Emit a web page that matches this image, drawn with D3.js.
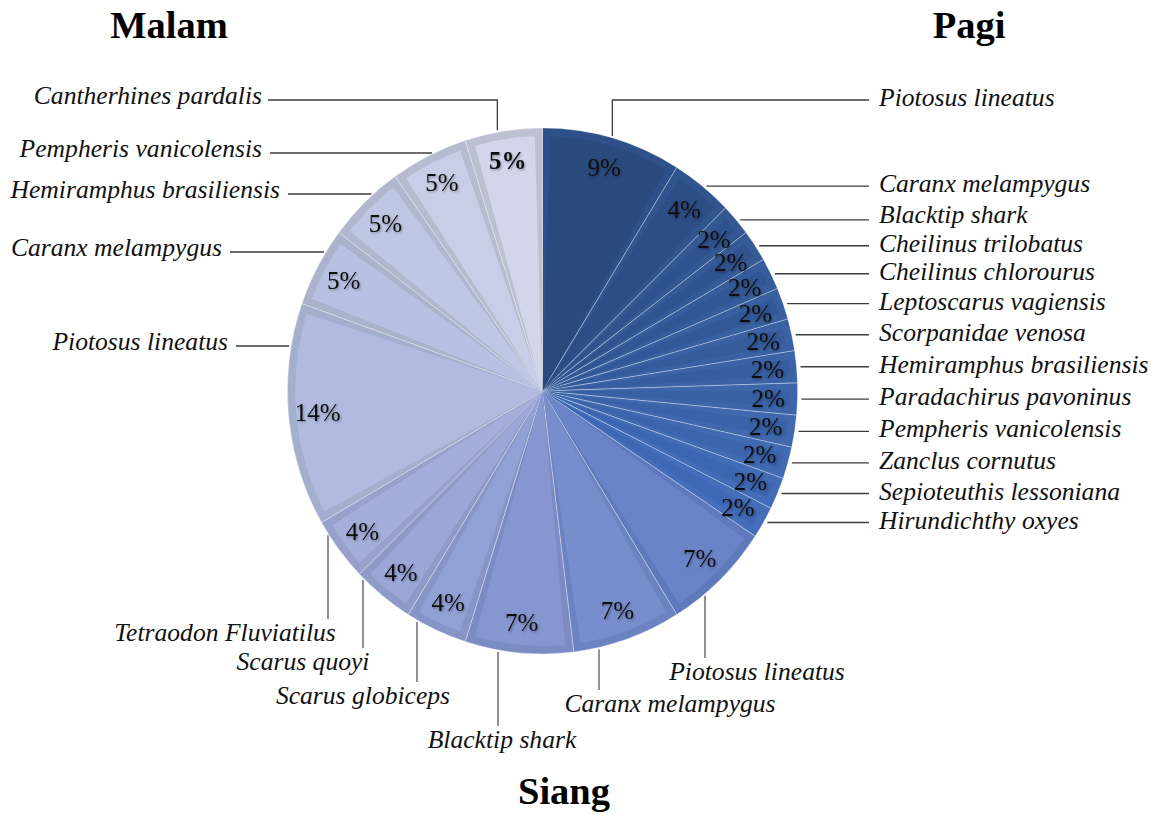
<!DOCTYPE html>
<html>
<head>
<meta charset="utf-8">
<script src="https://cdn.jsdelivr.net/npm/d3@7"></script>
<style>
  html, body { margin: 0; padding: 0; background: #ffffff; }
  svg { display: block; }
  .title { font-family: "Liberation Serif", "Times New Roman", serif; font-weight: bold; font-size: 38.5px; fill: #000; }
  .name { font-family: "Liberation Serif", "Times New Roman", serif; font-style: italic; font-size: 25.6px; fill: #111; }
  .pct { font-family: "Liberation Serif", "Times New Roman", serif; font-size: 25px; fill: #111; }
</style>
</head>
<body>
<svg id="chart" width="1151" height="814"></svg>
<script>
// Fish species observed per time of day (share of all sightings, %)
const periods = ["Pagi", "Siang", "Malam"];

const pagiSpecies = ["Piotosus lineatus", "Caranx melampygus", "Blacktip shark", "Cheilinus trilobatus",
  "Cheilinus chlorourus", "Leptoscarus vagiensis", "Scorpanidae venosa", "Hemiramphus brasiliensis",
  "Paradachirus pavoninus", "Pempheris vanicolensis", "Zanclus cornutus", "Sepioteuthis lessoniana",
  "Hirundichthy oxyes"];
const pagiPct = [9, 4, 2, 2, 2, 2, 2, 2, 2, 2, 2, 2, 2];

const siangSpecies = ["Piotosus lineatus", "Caranx melampygus", "Blacktip shark", "Scarus globiceps",
  "Scarus quoyi", "Tetraodon Fluviatilus"];
const siangPct = [7, 7, 7, 4, 4, 4];

const malamSpecies = ["Piotosus lineatus", "Caranx melampygus", "Hemiramphus brasiliensis",
  "Pempheris vanicolensis", "Cantherhines pardalis"];
const malamPct = [14, 5, 5, 5, 5];

// Slice fills and bevel-band colours, clockwise from 12 o'clock
const fillColors = [
  "#2a4a7e", "#2c4d85", "#2f518d", "#305390", "#325694", "#335898", "#355b9c", "#365da0",
  "#3860a4", "#3a62a8", "#3b64ac", "#3d66b0", "#3f68b4",
  "#6a84c7", "#788ecc", "#8696d0", "#92a1d4", "#9aa7d7", "#a3aed9",
  "#b0bbdf", "#b8c1e2", "#c0c7e4", "#c8cee7", "#d2d6eb"
];
const bandColors = [
  "#2e5088", "#30548d", "#335894", "#355a97", "#365c9b", "#385f9f", "#3a61a3", "#3b63a6",
  "#3d66aa", "#3f68ae", "#406ab2", "#426cb5", "#446eb9",
  "#5e79bc", "#6c83c2", "#7b8bc4", "#8794c6", "#8e9ac8", "#97a1ca",
  "#a4aecd", "#aab2cc", "#b0b7ce", "#b6bccf", "#bcc1d2"
];

// Label placement: leader style, leader/text anchor positions
// kind: "right" (leader at slice mid-angle height), "elbowR"/"elbowL" (vertical then horizontal),
//       "left" (horizontal at ly), "down" (vertical at lx); dy nudges a name off its leader
const pagiLayout = [
  { kind: "elbowR", ly: 100 },
  { kind: "right" },
  { kind: "right", dy: -3 },
  ...d3.range(10).map(() => ({ kind: "right" }))
];
const siangLayout = [
  { kind: "down", lx: 705, tx: 757, ty: 680 },
  { kind: "down", lx: 599, tx: 670, ty: 712 },
  { kind: "down", lx: 498, tx: 502, ty: 748 },
  { kind: "down", lx: 417, tx: 363, ty: 704 },
  { kind: "down", lx: 363, tx: 303, ty: 670 },
  { kind: "down", lx: 328, tx: 225, ty: 641 }
];
const malamLayout = [
  { kind: "left", ly: 346, tx: 228 },
  { kind: "left", ly: 252, tx: 222 },
  { kind: "left", ly: 194, tx: 280 },
  { kind: "left", ly: 153, tx: 262 },
  { kind: "elbowL", ly: 100, tx: 262, bold: true }
];

const slices = [
  ...pagiSpecies.map((s, i) => ({ period: "Pagi", species: s, value: pagiPct[i], layout: pagiLayout[i] })),
  ...siangSpecies.map((s, i) => ({ period: "Siang", species: s, value: siangPct[i], layout: siangLayout[i] })),
  ...malamSpecies.map((s, i) => ({ period: "Malam", species: s, value: malamPct[i], layout: malamLayout[i] }))
];

const svg = d3.select("#chart");
const cx = 542.5, cy = 391, R = 263, SX = 0.97;

const defs = svg.append("defs");
const shadow = defs.append("filter").attr("id", "soft").attr("x", "-20%").attr("y", "-20%")
  .attr("width", "140%").attr("height", "140%");
shadow.append("feDropShadow").attr("dx", 1).attr("dy", 1.2).attr("stdDeviation", 1)
  .attr("flood-color", "#000").attr("flood-opacity", 0.35);

const pie = d3.pie().value(d => d.value).sort(null);
const arcs = pie(slices);

const outerArc = d3.arc().innerRadius(0).outerRadius(R);
const innerArc = d3.arc().innerRadius(0).outerRadius(R - 8).padRadius(R).padAngle(16 / R);

const g = svg.append("g").attr("transform", `translate(${cx},${cy}) scale(${SX},1)`);

g.selectAll("path.band").data(arcs).join("path")
  .attr("class", "band")
  .attr("d", outerArc)
  .attr("fill", (d, i) => bandColors[i])
  .attr("stroke", "rgba(255,255,255,0.45)")
  .attr("stroke-width", 0.7);

g.selectAll("path.face").data(arcs).join("path")
  .attr("class", "face")
  .attr("d", innerArc)
  .attr("fill", (d, i) => fillColors[i]);

// helpers on the (slightly elliptical) pie outline
const midAngle = d => (d.startAngle + d.endAngle) / 2;
const ptAt = (a, r) => [cx + SX * r * Math.sin(a), cy - r * Math.cos(a)];
const arcXatY = (y, side) => cx + side * SX * R * Math.sqrt(Math.max(0, 1 - ((y - cy) / R) ** 2));
const arcYatX = (x, side) => cy + side * R * Math.sqrt(Math.max(0, 1 - ((x - cx) / (SX * R)) ** 2));

// percentage labels
svg.append("g").selectAll("text").data(arcs).join("text")
  .attr("class", "pct")
  .attr("filter", "url(#soft)")
  .attr("text-anchor", "middle")
  .attr("dominant-baseline", "central")
  .attr("font-weight", d => d.data.layout.bold ? "bold" : null)
  .attr("x", d => ptAt(midAngle(d), R * 0.885)[0])
  .attr("y", d => ptAt(midAngle(d), R * 0.885)[1])
  .text(d => d3.format("d")(d.data.value) + "%");

// leader lines and species names
const lead = svg.append("g").attr("fill", "none").attr("stroke", "#3c3c3c").attr("stroke-width", 1.3);
const names = svg.append("g");
const RIGHT_END = 869, RIGHT_TEXT = 879;

arcs.forEach(d => {
  const L = d.data.layout;
  const a = midAngle(d);
  const dy = L.dy || 0;
  if (L.kind === "right") {
    const y = ptAt(a, R)[1];
    const x0 = arcXatY(y, 1) + 4;
    lead.append("path").attr("d", d3.line()([[x0, y], [RIGHT_END, y]]));
    names.append("text").attr("class", "name").attr("x", RIGHT_TEXT).attr("y", y + 6 + dy).text(d.data.species);
  } else if (L.kind === "elbowR") {
    const x = ptAt(a, R)[0];
    const y0 = arcYatX(x, -1) - 2;
    lead.append("path").attr("d", d3.line()([[x, y0], [x, L.ly], [RIGHT_END, L.ly]]));
    names.append("text").attr("class", "name").attr("x", RIGHT_TEXT).attr("y", L.ly + 6 + dy).text(d.data.species);
  } else if (L.kind === "elbowL") {
    const x = ptAt(a, R)[0] - 6;
    const y0 = arcYatX(x, -1) - 2;
    lead.append("path").attr("d", d3.line()([[x, y0], [x, L.ly], [L.tx + 6, L.ly]]));
    names.append("text").attr("class", "name").attr("text-anchor", "end")
      .attr("x", L.tx).attr("y", L.ly + 4 + dy).text(d.data.species);
  } else if (L.kind === "left") {
    const x1 = arcXatY(L.ly, -1) - 2;
    lead.append("path").attr("d", d3.line()([[L.tx + 8, L.ly], [x1, L.ly]]));
    names.append("text").attr("class", "name").attr("text-anchor", "end")
      .attr("x", L.tx).attr("y", L.ly + 4 + dy).text(d.data.species);
  } else if (L.kind === "down") {
    const y0 = arcYatX(L.lx, 1) + 2;
    lead.append("path").attr("d", d3.line()([[L.lx, y0], [L.lx, L.ty - 22]]))
      .attr("stroke", "#555");
    names.append("text").attr("class", "name").attr("text-anchor", "middle")
      .attr("x", L.tx).attr("y", L.ty + dy).text(d.data.species);
  }
});

// period titles
const titlePos = { Malam: [169, 38], Pagi: [969, 38], Siang: [564, 804] };
svg.append("g").selectAll("text").data(periods).join("text")
  .attr("class", "title")
  .attr("text-anchor", "middle")
  .attr("x", p => titlePos[p][0])
  .attr("y", p => titlePos[p][1])
  .text(p => p);
</script>
</body>
</html>
